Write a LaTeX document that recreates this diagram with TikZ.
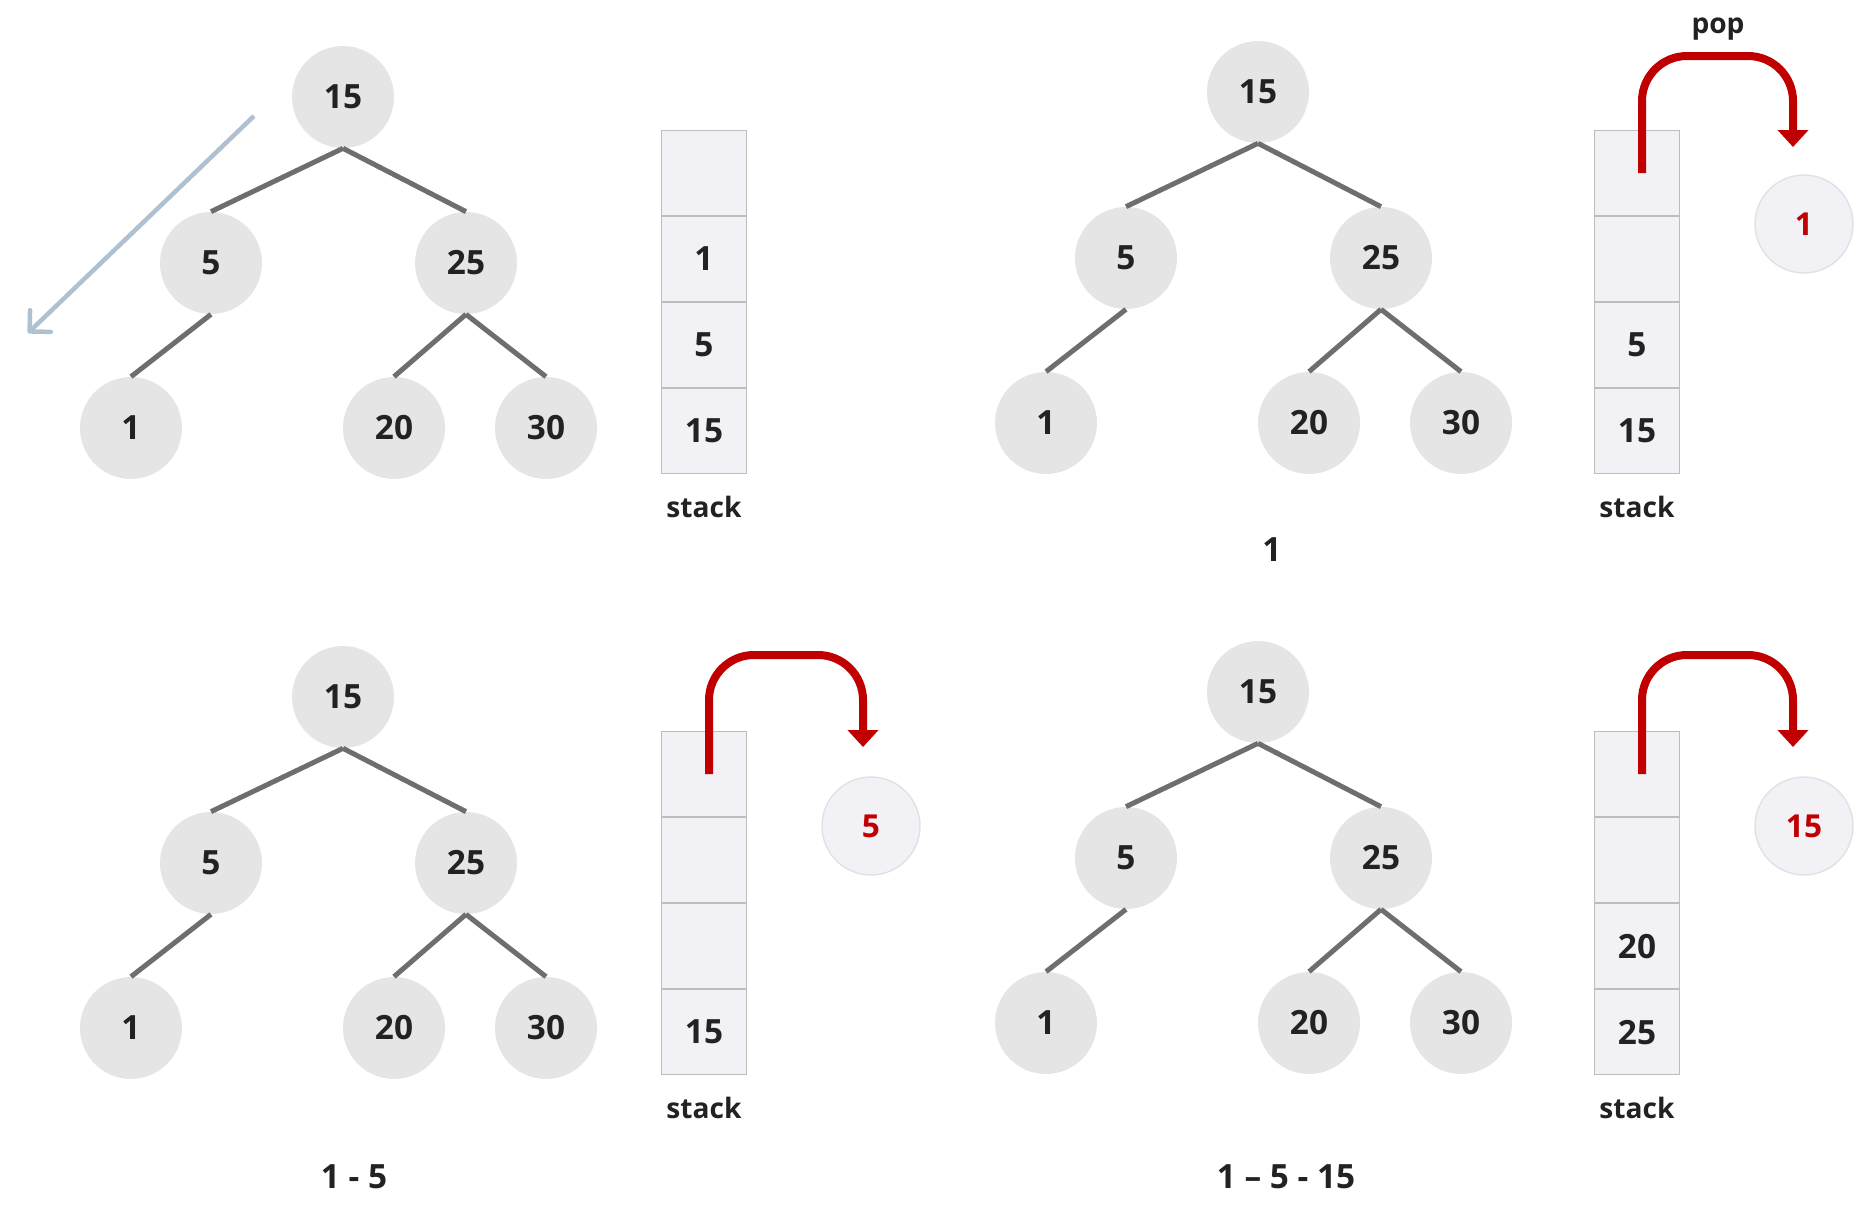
\documentclass[tikz,border=0pt]{standalone}
\usepackage{fontspec}
\setmainfont{Open Sans}
\usetikzlibrary{arrows.meta,positioning}
\definecolor{nodegray}{HTML}{E6E5E6}
\definecolor{edgegray}{HTML}{6E6E6E}
\definecolor{cellfill}{HTML}{F2F1F6}
\definecolor{cellline}{HTML}{BDBDBD}
\definecolor{popline}{HTML}{E2E0E4}
\definecolor{popred}{HTML}{C00000}
\definecolor{scanblue}{HTML}{AFC1D1}
\definecolor{ink}{HTML}{222222}
\tikzset{vertex/.style={circle,fill=nodegray,minimum size=2.04cm,inner sep=0pt,font=\fontsize{19}{19}\selectfont\bfseries,text=ink},edge/.style={draw=edgegray,line width=0.1cm},cell/.style={draw=cellline,fill=cellfill,minimum width=1.7cm,minimum height=1.7cm,inner sep=0pt,line width=0.6pt,font=\fontsize{19}{19}\selectfont\bfseries,text=ink},popped/.style={circle,draw=popline,fill=cellfill,line width=0.8pt,minimum size=1.96cm,inner sep=0pt,font=\fontsize{18}{18}\selectfont\bfseries,text=popred},popflux/.style={draw=popred,line width=0.16cm,rounded corners=0.9cm,-{Triangle[width=0.6cm,length=0.34cm]}},scan/.style={draw=scanblue,line width=0.09cm,-{Straight Barb[width=0.6cm,length=0.3cm,round]}},tag/.style={font=\fontsize{16}{16}\selectfont\bfseries,text=ink},result/.style={font=\fontsize{19}{19}\selectfont\bfseries,text=ink}}

\begin{document}
\begin{tikzpicture}[x=0.02cm,y=-0.02cm]
\useasboundingbox (0,0) rectangle (1856,1214);
% the same tree in all four panels
\foreach \p/\dx/\dy in {a/0/0,b/915/-5,c/0/600,d/915/595}{
\begin{scope}[shift={(\dx,\dy)},name prefix=\p-]
\node[vertex] (n15) at (343,97) {15};
\node[vertex] (n5) at (211,263) {5};
\node[vertex] (n25) at (466,263) {25};
\node[vertex] (n1) at (131,428) {1};
\node[vertex] (n20) at (394,428) {20};
\node[vertex] (n30) at (546,428) {30};
\draw[edge] (n15.south)--(n5.north);
\draw[edge] (n15.south)--(n25.north);
\draw[edge] (n5.south)--(n1.north);
\draw[edge] (n25.south)--(n20.north);
\draw[edge] (n25.south)--(n30.north);
\end{scope}}
% stacks
\foreach \p/\x/\y/\ca/\cb/\cc/\cd in {a/704/130/{}/1/5/15,b/1637/130/{}/{}/5/15,c/704/731/{}/{}/{}/15,d/1637/731/{}/{}/20/25}{
\node[cell,anchor=north] (\p-s1) at (\x,\y) {\ca};
\node[cell,below=0pt of \p-s1] (\p-s2) {\cb};
\node[cell,below=0pt of \p-s2] (\p-s3) {\cc};
\node[cell,below=0pt of \p-s3] (\p-s4) {\cd};
\node[tag,below=0.32cm of \p-s4] (\p-name) {stack};}
% traversal direction
\coordinate (scanA) at (254,116);
\coordinate (scanB) at (28,333);
\draw[scan] (scanA)--(scanB);
% popped values
\node[popped] (b-out) at (1804,224) {1};
\node[popped] (c-out) at (871,826) {5};
\node[popped] (d-out) at (1804,826) {15};
\coordinate (b-top) at (1793,56);
\coordinate (b-tip) at (1793,147);
\coordinate (c-top) at (863,655);
\coordinate (c-tip) at (863,747);
\coordinate (d-top) at (1793,655);
\coordinate (d-tip) at (1793,747);
\draw[popflux] ([xshift=0.1cm]b-s1.center) |- (b-top)--(b-tip);
\draw[popflux] ([xshift=0.1cm]c-s1.center) |- (c-top)--(c-tip);
\draw[popflux] ([xshift=0.1cm]d-s1.center) |- (d-top)--(d-tip);
\node[tag] (b-pop) at (1718,29) {pop};
% output so far
\node[result] (b-res) at (1272,550) {1};
\node[result] (c-res) at (354,1177) {1 - 5};
\node[result] (d-res) at (1286,1177) {1 – 5 - 15};
\end{tikzpicture}
\end{document}
